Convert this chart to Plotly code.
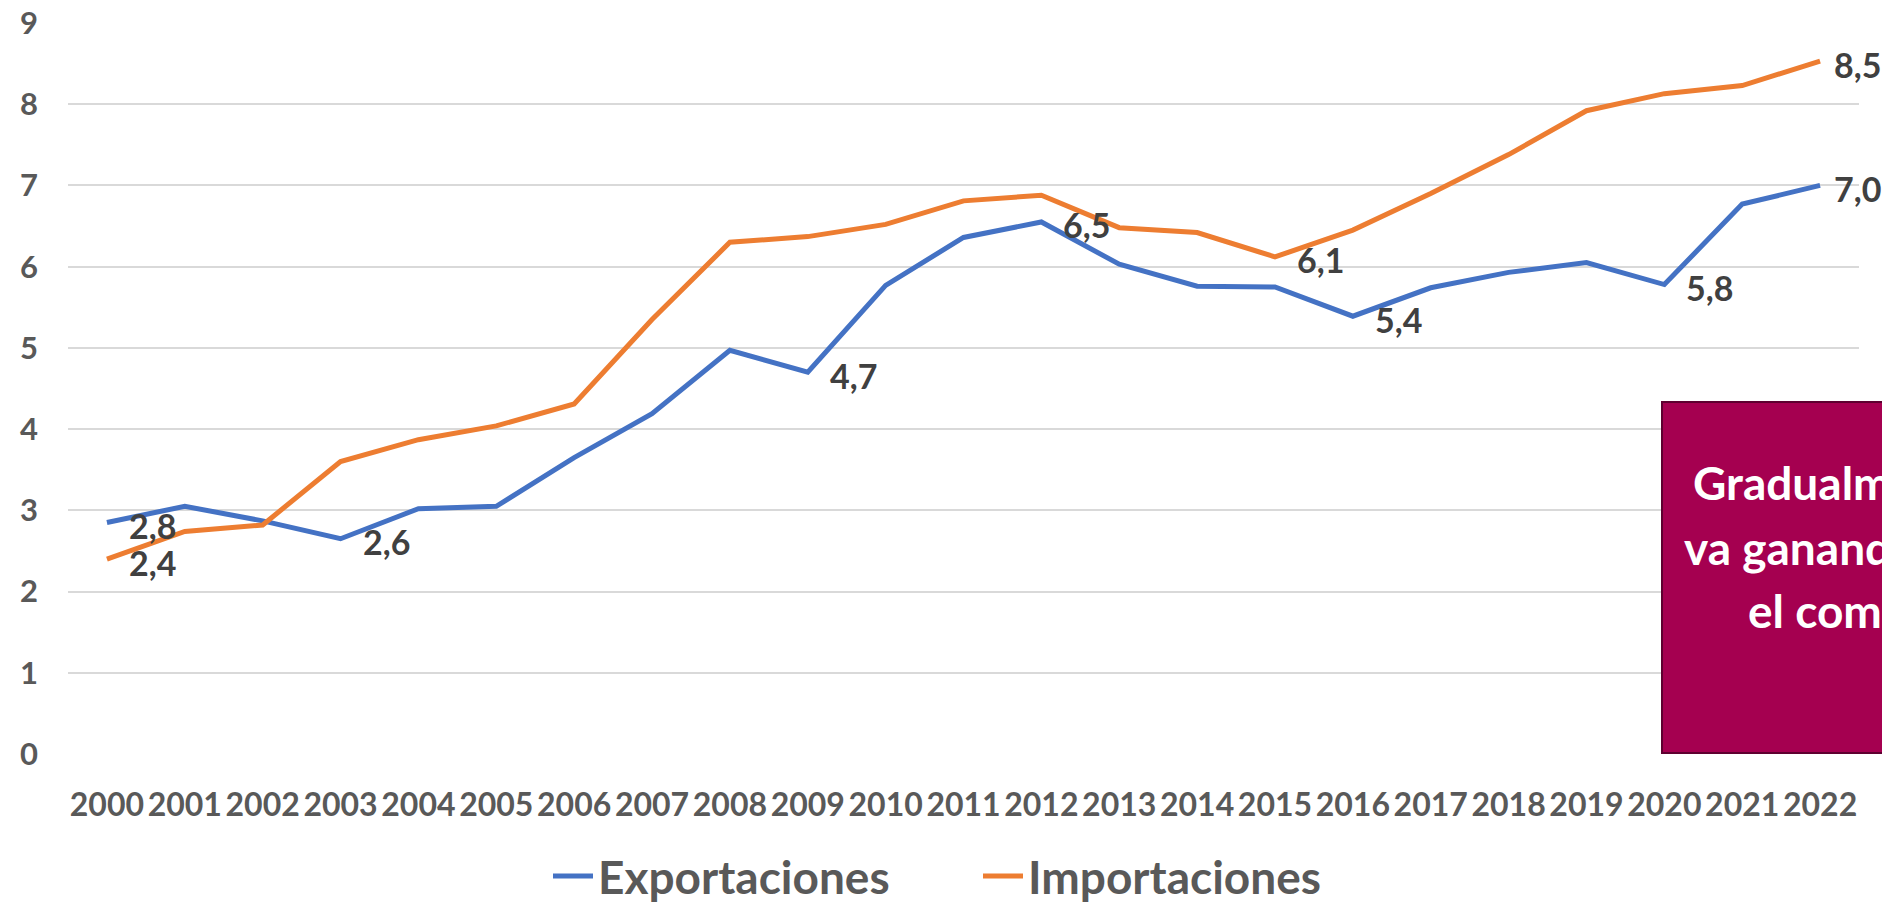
import plotly.graph_objects as go

years = [str(y) for y in range(2000, 2023)]
exportaciones = [2.85, 3.05, 2.87, 2.65, 3.02, 3.05, 3.65, 4.19, 4.97, 4.70, 5.77, 6.36, 6.55,
                 6.03, 5.76, 5.75, 5.39, 5.74, 5.93, 6.05, 5.78, 6.77, 7.00]
importaciones = [2.40, 2.74, 2.82, 3.60, 3.87, 4.04, 4.31, 5.35, 6.30, 6.37, 6.52, 6.81, 6.88,
                 6.48, 6.42, 6.12, 6.45, 6.90, 7.38, 7.92, 8.13, 8.23, 8.53]
y_ticks = list(range(0, 10))

# years whose values are labelled
export_labels = {"2000": "2,8", "2003": "2,6", "2009": "4,7", "2012": "6,5",
                 "2016": "5,4", "2020": "5,8", "2022": "7,0"}
import_labels = {"2000": "2,4", "2015": "6,1", "2022": "8,5"}

box_lines = ["Gradualmente", "va ganando", "el comercio"]

BLUE = "#4472C4"
ORANGE = "#ED7D31"
FONT = "Lato"

# the page body has an 8px margin, so the figure is drawn 8px in from the top-left
OFF = 8
W, H = 1890 - OFF, 904 - OFF
ML, MR, MT, MB = 68 - OFF, 31, 23 - OFF, 150
PW, PH = W - ML - MR, H - MT - MB


def px_x(px):
    """page pixel x -> paper fraction"""
    return (px - OFF - ML) / PW


def px_y(py):
    """page pixel y -> paper fraction"""
    return (H - MB - (py - OFF)) / PH


fig = go.Figure()
fig.add_trace(go.Scatter(x=years, y=exportaciones, mode="lines", name="Exportaciones",
                         line=dict(color=BLUE, width=5), cliponaxis=False))
fig.add_trace(go.Scatter(x=years, y=importaciones, mode="lines", name="Importaciones",
                         line=dict(color=ORANGE, width=5), cliponaxis=False))

annotations = []
for series, labels in ((exportaciones, export_labels), (importaciones, import_labels)):
    for yr, txt in labels.items():
        i = years.index(yr)
        annotations.append(dict(
            x=i, y=series[i], xref="x", yref="y", text=txt, showarrow=False,
            xanchor="left", yanchor="middle",
            xshift=12 if yr == "2022" else 20, yshift=-3,
            font=dict(family=FONT, size=34, color="#404040", weight="bold")))

# callout box (partly outside the picture)
line_starts = [1691, 1682, 1746]
line_centers = [482, 547, 610]
for txt, x0, yc in zip(box_lines, line_starts, line_centers):
    annotations.append(dict(
        x=px_x(x0), y=px_y(yc), xref="paper", yref="paper", text=txt, showarrow=False,
        xanchor="left", yanchor="middle",
        font=dict(family=FONT, size=46, color="white", weight="bold")))

fig.add_shape(type="rect", xref="paper", yref="paper",
              x0=px_x(1662), x1=px_x(1990), y0=px_y(753), y1=px_y(402),
              fillcolor="#A50050", line=dict(color="#5E0030", width=2), layer="above")

fig.update_layout(
    width=W, height=H,
    margin=dict(l=ML, r=MR, t=MT, b=MB, autoexpand=False),
    paper_bgcolor="white", plot_bgcolor="white",
    showlegend=True,
    legend=dict(orientation="h", x=px_x(548), xanchor="left", y=px_y(876), yanchor="middle",
                font=dict(family=FONT, size=46, color="#595959", weight="bold"),
                itemwidth=40, entrywidth=375, bgcolor="rgba(0,0,0,0)"),
    annotations=annotations,
    xaxis=dict(type="category", categoryorder="array", categoryarray=years,
               range=[-0.5, len(years) - 0.5], autorange=False, automargin=False,
               showgrid=False, zeroline=False, showline=False, ticks="",
               ticklabelstandoff=29, ticklabeloverflow="allow",
               tickfont=dict(family=FONT, size=32, color="#595959", weight="bold")),
    yaxis=dict(range=[0, 9], autorange=False, automargin=False, tickvals=y_ticks,
               showgrid=True, gridcolor="#D9D9D9", gridwidth=2,
               zeroline=False, showline=False, ticks="", ticklabelstandoff=29,
               ticklabeloverflow="allow",
               tickfont=dict(family=FONT, size=31, color="#595959", weight="bold")),
)

fig.write_html("out.html")
